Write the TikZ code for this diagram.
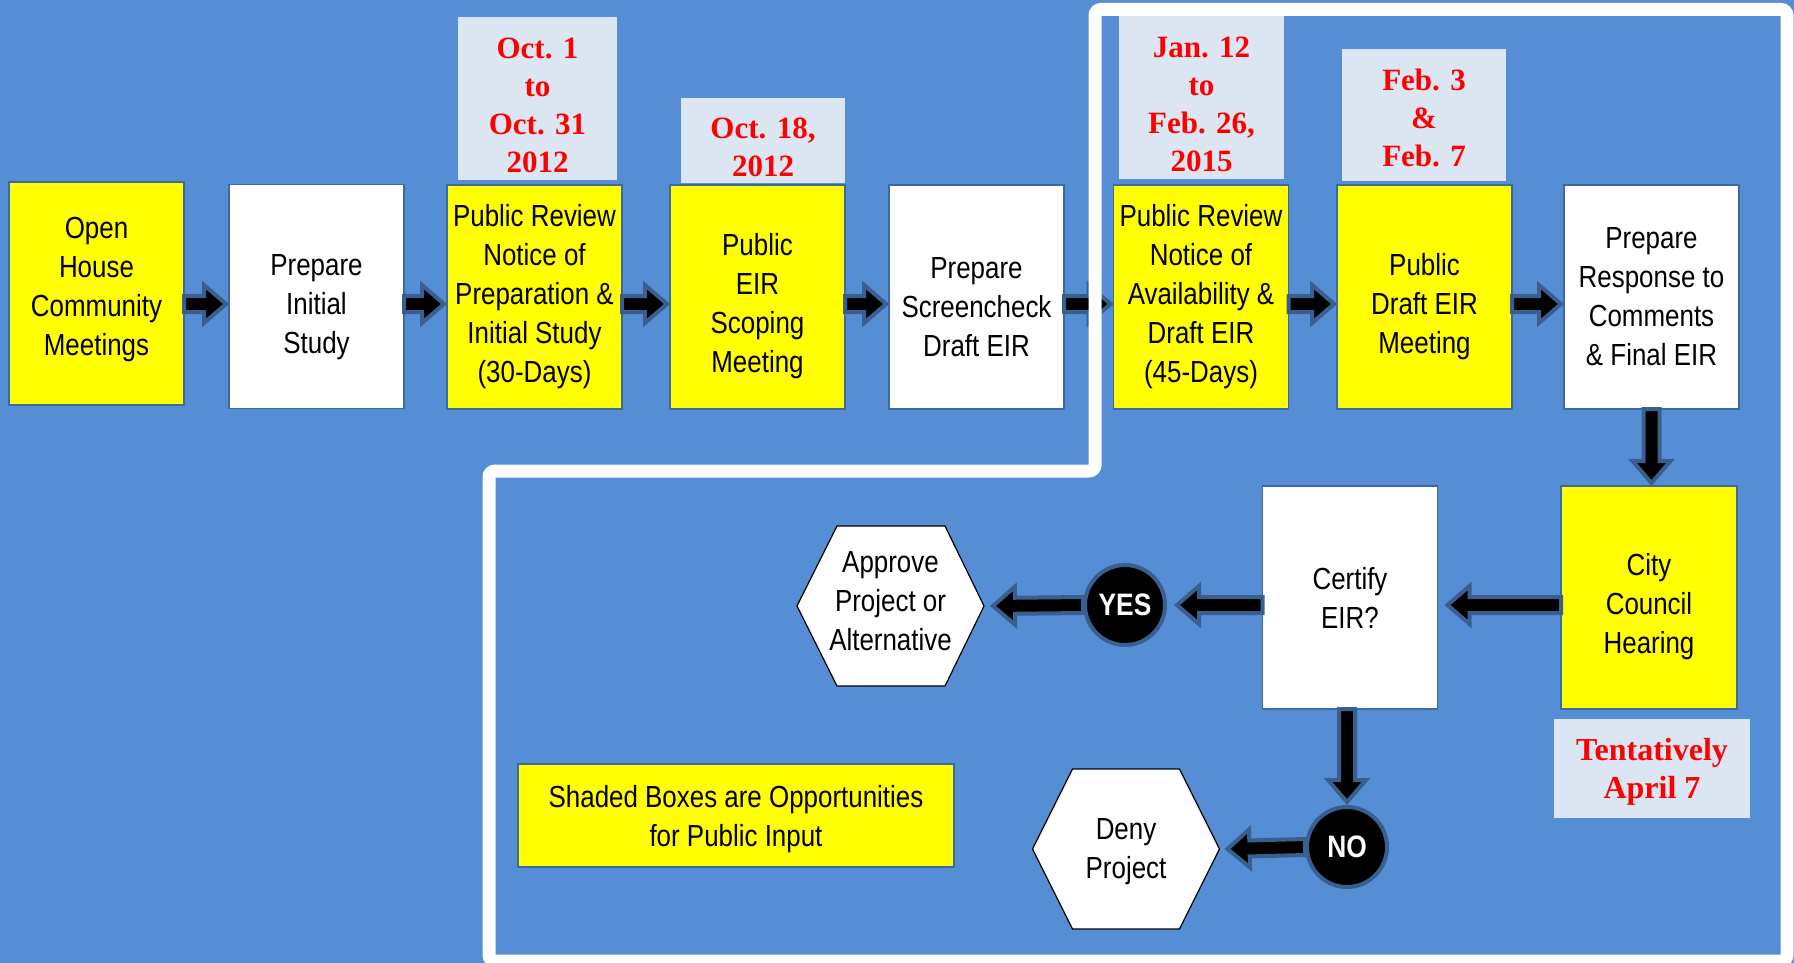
\documentclass[tikz,border=0pt]{standalone}
\usepackage{fontspec}
\setmainfont{Liberation Sans}[FakeStretch=0.85]
\newfontfamily\datefont{Liberation Serif}
\usetikzlibrary{calc}
\pgfdeclarelayer{bg}
\pgfsetlayers{bg,main}
\definecolor{bgblue}{HTML}{558ED5}
\definecolor{datebg}{HTML}{DCE6F2}
\definecolor{edge}{HTML}{3D6A9E}
\definecolor{arrowedge}{HTML}{3A5F8F}
\definecolor{dred}{HTML}{FF0000}
\definecolor{pyellow}{HTML}{FFFF00}
\newcommand\topstrut[1]{\rule{0pt}{#1pt}}
\newcommand\botstrut[1]{\rule[-#1pt]{0pt}{0pt}}
\tikzset{
 box/.style={draw=edge, line width=1.5pt, minimum width=175pt, minimum height=224pt, inner sep=1pt, outer sep=0pt, align=center, font=\fontsize{30.5}{39}\selectfont},
 pubbox/.style={box, fill=pyellow},
 workbox/.style={box, fill=white},
 datebox/.style={fill=datebg, inner sep=0pt, outer sep=0pt, align=center, text=dred, font=\datefont\bfseries\fontsize{31}{38}\selectfont},
 hexnode/.style={minimum width=187pt, minimum height=160pt, inner sep=0pt, outer sep=0pt, align=center, font=\fontsize{30.5}{39}\selectfont},
 hexline/.style={draw=black, fill=white, line width=1.2pt},
 decision/.style={circle, fill=black, draw=arrowedge, line width=4pt, minimum size=80pt, inner sep=0pt, text=white, font=\bfseries\fontsize{31}{36}\selectfont},
 barrowstyle/.style={fill=black, draw=arrowedge, line width=4pt, line join=miter},
 border/.style={draw=white, line width=13pt, rounded corners=6pt},
}
\newcommand\blockarrow[2]{%
 \coordinate (bS) at #1;
 \coordinate (bE) at #2;
 \coordinate (bM) at ($(bE)!22pt!(bS)$);
 \filldraw[barrowstyle] ($(bS)!8pt!90:(bE)$) -- ($(bM)!8pt!90:(bE)$) -- ($(bM)!19pt!90:(bE)$) -- (bE) -- ($(bM)!19pt!-90:(bE)$) -- ($(bM)!8pt!-90:(bE)$) -- ($(bS)!8pt!-90:(bE)$) -- cycle;}
\begin{document}
\begin{tikzpicture}[x=1pt,y=-1pt]
\useasboundingbox (0,0) rectangle (1794,963);
\begin{pgfonlayer}{bg}\fill[bgblue] (0,0) rectangle (1794,963);\end{pgfonlayer}
\coordinate (row) at (0,304);
% top row
\node[pubbox, minimum height=223pt] (open) at (96.5,293.5) {Open\\House\\Community\\Meetings\botstrut{14}};
\node[workbox] (initial) at (316.5,296.5) {\topstrut{42}Prepare\\Initial\\Study};
\node[pubbox] (nop) at (534.5,297) {Public Review\\Notice of\\Preparation \&\\Initial Study\\(30-Days)};
\node[pubbox] (scoping) at (757.5,297) {\topstrut{40}Public\\EIR\\Scoping\\Meeting};
\node[workbox] (screen) at (976.5,297) {\topstrut{42}Prepare\\Screencheck\\Draft EIR};
\node[pubbox] (noa) at (1201,297) {Public Review\\Notice of\\Availability \&\\Draft EIR\\(45-Days)};
\node[pubbox] (deir) at (1424.5,297) {\topstrut{42}Public\\Draft EIR\\Meeting};
\node[workbox] (resp) at (1651.5,297) {Prepare\\Response to\\Comments\\\& Final EIR};
% dates
\node[datebox, minimum width=159pt, minimum height=163pt] (d1) at (537.5,98.5) {\topstrut{35}Oct. 1\\to\\Oct. 31\\2012};
\node[datebox, minimum width=164pt, minimum height=85pt] (d2) at (763,140.5) {\topstrut{35}Oct. 18,\\2012};
\node[datebox, minimum width=165pt, minimum height=163pt] (d3) at (1201.5,97.5) {\topstrut{34}Jan. 12\\to\\Feb. 26,\\2015};
\node[datebox, minimum width=164pt, minimum height=132pt] (d4) at (1424,115) {\topstrut{27}Feb. 3\\\&\\Feb. 7};
% lower part
\node[pubbox, minimum width=176pt, minimum height=223pt] (city) at (1649,597.5) {\topstrut{40}City\\Council\\Hearing};
\node[datebox, minimum width=196pt, minimum height=99pt, font=\datefont\bfseries\fontsize{32}{38}\selectfont] (tent) at (1652,768.5) {\topstrut{28}Tentatively\\April 7};
\node[workbox, minimum height=223pt] (certify) at (1350,597.5) {Certify\\EIR?};
\node[hexnode] (approve) at (890.5,606) {Approve\\Project or\\Alternative\botstrut{9}};
\node[hexnode] (deny) at (1126,849) {\topstrut{27}Deny\\Project};
\node[pubbox, minimum width=436pt, minimum height=103pt] (legend) at (736,815.5) {\topstrut{29}Shaded Boxes are Opportunities\\for Public Input};
\begin{pgfonlayer}{bg}
\draw[hexline] (approve.west) -- ([xshift=40pt]approve.north west) -- ([xshift=-39pt]approve.north east) -- (approve.east) -- ([xshift=-39pt]approve.south east) -- ([xshift=40pt]approve.south west) -- cycle;
\draw[hexline] (deny.west) -- ([xshift=40pt]deny.north west) -- ([xshift=-40pt]deny.north east) -- (deny.east) -- ([xshift=-40pt]deny.south east) -- ([xshift=40pt]deny.south west) -- cycle;
\end{pgfonlayer}
% arrows
\blockarrow{(open.east |- row)}{($(initial.west |- row)+(-3,0)$)}
\blockarrow{(initial.east |- row)}{($(nop.west |- row)+(-3,0)$)}
\blockarrow{(nop.east |- row)}{($(scoping.west |- row)+(-3,0)$)}
\blockarrow{(scoping.east |- row)}{($(screen.west |- row)+(-3,0)$)}
\blockarrow{(screen.east |- row)}{($(noa.west |- row)+(-3,0)$)}
\blockarrow{(noa.east |- row)}{($(deir.west |- row)+(-3,0)$)}
\blockarrow{(deir.east |- row)}{($(resp.west |- row)+(-3,0)$)}
\blockarrow{(resp.south)}{($(city.north -| resp.south)+(0,-3)$)}
\node[decision] (yes) at (1125,605) {YES};
\node[decision] (no) at (1347,847) {NO};
\blockarrow{(city.west |- yes)}{($(certify.east |- yes)+(10,0)$)}
\blockarrow{(certify.west |- yes)}{($(yes.east)+(10,0)$)}
\blockarrow{(yes.west)}{($(approve.east)+(9,0)$)}
\blockarrow{(certify.south -| no)}{($(no.north)+(0,-3)$)}
\blockarrow{(no.west)}{($(deny.east)+(8,0)$)}
% white frame
\begin{scope}
\clip (0,0) rectangle (1794,963);
\draw[border] (489,961) -- (489,471) -- (1095,471) -- (1095,9.5) -- (1787,9.5) -- (1787,961) -- cycle;
\end{scope}
\end{tikzpicture}
\end{document}
